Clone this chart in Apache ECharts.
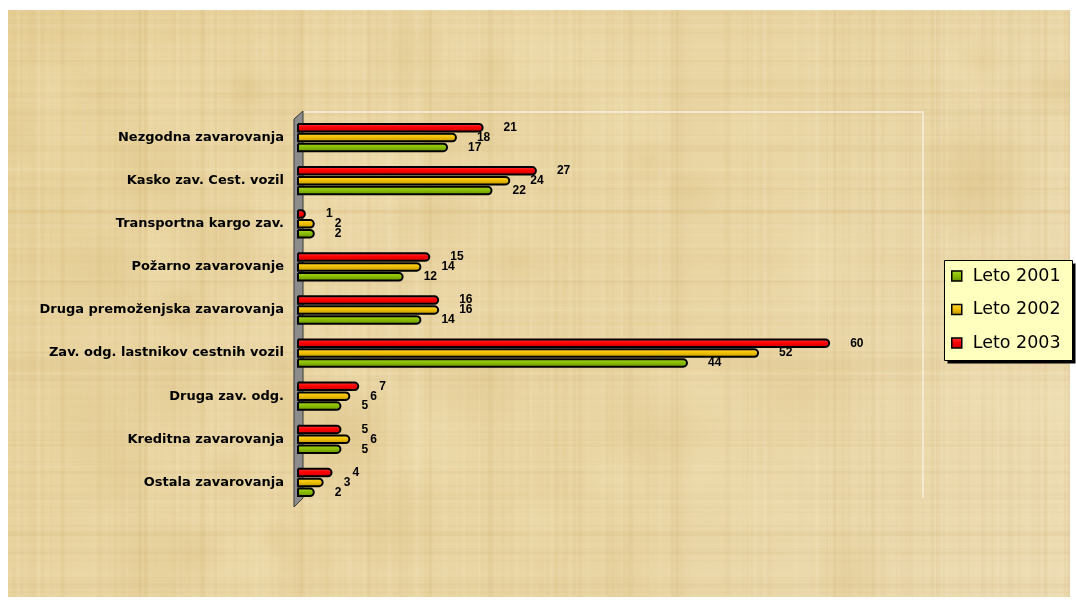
<!DOCTYPE html>
<html>
<head>
<meta charset="utf-8">
<script src="https://cdn.jsdelivr.net/npm/echarts@6/dist/echarts.min.js"></script>
<style>html,body{margin:0;padding:0;background:#fff}#c{width:1076px;height:604px}</style>
</head>
<body>
<div id="c"></div>
<script>
const categories = [
  'Nezgodna zavarovanja',
  'Kasko zav. Cest. vozil',
  'Transportna kargo zav.',
  'Požarno zavarovanje',
  'Druga premoženjska zavarovanja',
  'Zav. odg. lastnikov cestnih vozil',
  'Druga zav. odg.',
  'Kreditna zavarovanja',
  'Ostala zavarovanja'
];
const leto2001 = [17, 22, 2, 12, 14, 44, 5, 5, 2];
const leto2002 = [18, 24, 2, 14, 16, 52, 6, 6, 3];
const leto2003 = [21, 27, 1, 15, 16, 60, 7, 5, 4];
const legendNames = ['Leto 2001', 'Leto 2002', 'Leto 2003'];

function makePapyrus(w, h) {
  const c = document.createElement('canvas');
  c.width = w; c.height = h;
  const g = c.getContext('2d');
  const grad = g.createLinearGradient(0, 0, w, h);
  grad.addColorStop(0, '#e6cf96');
  grad.addColorStop(0.3, '#ead6a4');
  grad.addColorStop(0.6, '#e9d5a3');
  grad.addColorStop(1, '#eddcb3');
  g.fillStyle = grad; g.fillRect(0, 0, w, h);
  function hash(i) { const s = Math.sin(i * 12.9898) * 43758.5453; return s - Math.floor(s); }
  for (let i = 0; i < 260; i++) {
    const f = hash(i), x = hash(i + 1000) * w;
    g.fillStyle = f > 0.5 ? 'rgba(255,246,215,' + (0.05 + 0.1 * (f - 0.5)) + ')' : 'rgba(190,150,80,' + (0.03 + 0.05 * f) + ')';
    g.fillRect(x, 0, 1 + 4 * hash(i + 2000), h);
  }
  for (let i = 0; i < 180; i++) {
    const f = hash(i + 5000), y = hash(i + 6000) * h;
    g.fillStyle = f > 0.5 ? 'rgba(255,246,215,' + (0.04 + 0.08 * (f - 0.5)) + ')' : 'rgba(190,150,80,' + (0.03 + 0.05 * f) + ')';
    g.fillRect(0, y, w, 1 + 3 * hash(i + 7000));
  }
  for (let i = 0; i < 60; i++) {
    const f = hash(i + 9000);
    const x = hash(i + 9100) * w, y = hash(i + 9200) * h;
    const r = 20 + 50 * hash(i + 9300);
    const rg = g.createRadialGradient(x, y, 0, x, y, r);
    const col = f > 0.5 ? '245,232,190' : '215,185,120';
    rg.addColorStop(0, 'rgba(' + col + ',0.25)');
    rg.addColorStop(1, 'rgba(' + col + ',0)');
    g.fillStyle = rg; g.fillRect(x - r, y - r, 2 * r, 2 * r);
  }
  return c;
}

function grad(top, mid, bot) {
  return new echarts.graphic.LinearGradient(0, 0, 0, 1, [
    { offset: 0, color: top }, { offset: 0.45, color: mid }, { offset: 1, color: bot }
  ]);
}

const chart = echarts.init(document.getElementById('c'), null, { renderer: 'canvas' });

const labelStyle = {
  show: true, position: 'right', distance: 20,
  fontFamily: 'Liberation Sans', fontWeight: 'bold', fontSize: 12, color: '#000'
};
function barSeries(name, data, colors) {
  return {
    name: name, type: 'bar', data: data,
    barWidth: 9.5, barGap: '4%',
    itemStyle: { color: grad(colors[0], colors[1], colors[2]), borderColor: '#000', borderWidth: 2, borderRadius: [0, 4.5, 4.5, 0] },
    label: labelStyle,
    emphasis: { disabled: true }
  };
}

chart.setOption({
  animation: false,
  backgroundColor: '#fff',
  graphic: [
    { type: 'image', left: 8, top: 10, z: -10, style: { image: makePapyrus(1062, 587), x: 0, y: 0, width: 1062, height: 587 } },
    { type: 'polyline', z: -5, shape: { points: [[303, 112], [923, 112], [923, 498]] }, style: { stroke: '#f6f2de', lineWidth: 1.5, fill: null } },
    { type: 'polygon', z: -4, shape: { points: [[294, 119], [303, 111], [303, 498], [294, 507]] }, style: { fill: '#8c8c8c', stroke: '#3a3a3a', lineWidth: 1 } },
    { type: 'rect', z: -3, shape: { x: 947.5, y: 263.5, width: 128, height: 100 }, style: { fill: '#000' } },
    { type: 'rect', z: -2, shape: { x: 944.5, y: 260.5, width: 128, height: 100 }, style: { fill: '#ffffbe', stroke: '#000', lineWidth: 1 } }
  ],
  grid: { left: 297, right: 157, top: 116, bottom: 100, containLabel: false },
  xAxis: { type: 'value', min: 0, max: 70, show: false },
  yAxis: {
    type: 'category', data: categories, inverse: true,
    axisLine: { show: false }, axisTick: { show: false },
    axisLabel: { margin: 13, fontFamily: 'DejaVu Sans', fontWeight: 'bold', fontSize: 13, color: '#000' }
  },
  legend: {
    orient: 'vertical', left: 944, top: 260,
    data: legendNames,
    icon: 'rect', itemWidth: 10, itemHeight: 10, itemGap: 13.5,
    padding: [6, 12, 6, 7],
    textStyle: { fontFamily: 'DejaVu Sans', fontSize: 17.5, color: '#000', lineHeight: 20, padding: [0, 0, 0, 6] },
    itemStyle: { borderColor: '#000', borderWidth: 1.5 }
  },
  series: [
    barSeries('Leto 2003', leto2003, ['#ff4a4a', '#ff0000', '#c00000']),
    barSeries('Leto 2002', leto2002, ['#ffd845', '#f2c200', '#b89000']),
    barSeries('Leto 2001', leto2001, ['#a8d630', '#8cbf00', '#638c00'])
  ]
});
</script>
</body>
</html>
